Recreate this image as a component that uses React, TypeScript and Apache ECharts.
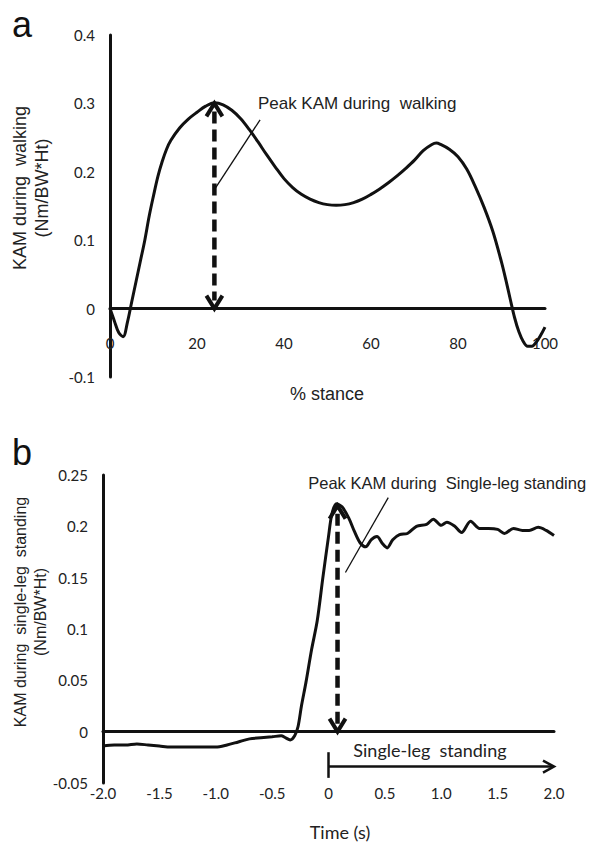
import React, { useEffect, useRef } from "react";
import * as echarts from "echarts";

// ---- Panel a: KAM during walking ----
const stancePct = [0, 1, 2, 3, 4, 5, 6, 7, 8, 9, 10, 11, 12, 13, 14, 16, 18, 20, 22, 24, 26, 28, 30, 32, 34, 36, 38, 40, 42, 44, 46, 48, 50, 52, 54, 56, 58, 60, 62, 64, 66, 68, 70, 72, 74, 75, 76, 78, 80, 82, 84, 86, 88, 90, 91, 92, 93, 94, 95, 96, 97, 98, 99, 100];
const walkingKAM = [0, -0.018, -0.035, -0.041, -0.02, 0.01, 0.04, 0.07, 0.1, 0.135, 0.165, 0.193, 0.215, 0.233, 0.246, 0.264, 0.277, 0.287, 0.296, 0.301, 0.298, 0.29, 0.278, 0.262, 0.244, 0.225, 0.207, 0.19, 0.177, 0.167, 0.16, 0.155, 0.152, 0.151, 0.152, 0.155, 0.16, 0.167, 0.175, 0.184, 0.194, 0.205, 0.217, 0.231, 0.24, 0.242, 0.24, 0.233, 0.222, 0.204, 0.178, 0.148, 0.113, 0.068, 0.042, 0.014, -0.013, -0.034, -0.048, -0.055, -0.055, -0.049, -0.039, -0.027];
const walkingXTicks = { min: 0, max: 100, interval: 20 };
const walkingYTicks = { min: -0.1, max: 0.4, interval: 0.1 };
const walkingPeak = [24, 0.3];
const walkingLeader = [[24, 0.174], [34.5, 0.276]];
const walkingNoteAt = [34, 0.3];

// ---- Panel b: KAM during single-leg standing ----
const timeSec = [-2.0, -1.9, -1.8, -1.7, -1.6, -1.5, -1.4, -1.3, -1.2, -1.1, -1.0, -0.9, -0.8, -0.7, -0.6, -0.5, -0.42, -0.38, -0.34, -0.3, -0.27, -0.24, -0.2, -0.15, -0.1, -0.05, 0, 0.03, 0.07, 0.12, 0.18, 0.23, 0.28, 0.33, 0.38, 0.43, 0.48, 0.52, 0.57, 0.63, 0.7, 0.78, 0.87, 0.93, 1.0, 1.05, 1.12, 1.18, 1.26, 1.34, 1.42, 1.5, 1.56, 1.64, 1.72, 1.78, 1.86, 1.93, 2.0];
const standingKAM = [-0.014, -0.013, -0.013, -0.012, -0.013, -0.014, -0.015, -0.015, -0.015, -0.015, -0.015, -0.013, -0.01, -0.007, -0.006, -0.005, -0.004, -0.006, -0.008, -0.004, 0.005, 0.025, 0.048, 0.08, 0.108, 0.15, 0.19, 0.212, 0.222, 0.219, 0.208, 0.195, 0.184, 0.18, 0.187, 0.19, 0.183, 0.179, 0.187, 0.192, 0.193, 0.2, 0.202, 0.207, 0.201, 0.204, 0.2, 0.194, 0.205, 0.198, 0.198, 0.197, 0.193, 0.198, 0.196, 0.196, 0.199, 0.196, 0.191];
const standingXTicks = { min: -2, max: 2, interval: 0.5 };
const standingYTicks = { min: -0.05, max: 0.25, interval: 0.05 };
const standingPeak = [0.08, 0.22];
const standingLeader = [[0.53, 0.228], [0.15, 0.155]];
const standingNoteAt = [-0.18, 0.242];
const phaseStart = 0;
const phaseEnd = 2.0;
const phaseY = -0.034;
const phaseTick = [-0.02, -0.045];
const phaseLabelAt = [0.9, -0.0175];

const INK = "#111";
const ARIAL = "Liberation Sans, Arial, sans-serif";
const CAL = "Lato, Carlito, sans-serif";

function chevron(tip: number[], dir: "up" | "down" | "right", w = 8, l = 13) {
  const [x, y] = tip;
  let pts: number[][];
  if (dir === "up") pts = [[x - w, y + l], [x, y], [x + w, y + l]];
  else if (dir === "down") pts = [[x - w, y - l], [x, y], [x + w, y - l]];
  else pts = [[x - l, y - w], [x, y], [x - l, y + w]];
  return { type: "polyline", shape: { points: pts }, style: { stroke: INK, lineWidth: 4, fill: "none" } };
}

export default function App() {
  const ref = useRef<HTMLDivElement>(null);
  useEffect(() => {
    if (!ref.current) return;
    const chart = echarts.init(ref.current, undefined, { renderer: "svg" });

    const axisLabelStyle = { color: "#222", fontFamily: CAL, fontSize: 15 };

    const option: any = {
      animation: false,
      backgroundColor: "#fff",
      grid: [
        { left: 110, top: 35, width: 435, height: 342 },
        { left: 103, top: 475, width: 451, height: 308 },
      ],
      xAxis: [
        {
          gridIndex: 0, type: "value", ...walkingXTicks,
          axisLine: { onZero: true, lineStyle: { color: INK, width: 3 } },
          axisTick: { show: false }, splitLine: { show: false },
          axisLabel: { ...axisLabelStyle, margin: -42 },
        },
        {
          gridIndex: 1, type: "value", ...standingXTicks,
          axisLine: { onZero: true, lineStyle: { color: INK, width: 3 } },
          axisTick: { show: false }, splitLine: { show: false },
          axisLabel: { ...axisLabelStyle, margin: 2, formatter: (v: number) => (v === 0 ? "0" : v.toFixed(1)) },
        },
      ],
      yAxis: [
        {
          gridIndex: 0, type: "value", ...walkingYTicks,
          axisLine: { show: true, onZero: false, lineStyle: { color: INK, width: 3 } },
          axisTick: { show: false }, splitLine: { show: false },
          axisLabel: { ...axisLabelStyle, margin: 15, formatter: (v: number) => (Math.abs(v) < 1e-9 ? "0" : v.toFixed(1)) },
        },
        {
          gridIndex: 1, type: "value", ...standingYTicks,
          axisLine: { show: true, onZero: false, lineStyle: { color: INK, width: 3 } },
          axisTick: { show: false }, splitLine: { show: false },
          axisLabel: { ...axisLabelStyle, margin: 15, formatter: (v: number) => (Math.abs(v) < 1e-9 ? "0" : String(+v.toFixed(2))) },
        },
      ],
      series: [
        {
          type: "line", xAxisIndex: 0, yAxisIndex: 0, smooth: 0.35, symbol: "none",
          lineStyle: { color: INK, width: 3 },
          data: stancePct.map((x, i) => [x, walkingKAM[i]]),
        },
        {
          type: "line", xAxisIndex: 1, yAxisIndex: 1, smooth: 0.3, symbol: "none",
          lineStyle: { color: INK, width: 3 },
          data: timeSec.map((x, i) => [x, standingKAM[i]]),
        },
        {
          type: "custom", xAxisIndex: 0, yAxisIndex: 0, silent: true, clip: false,
          data: [[0, 0]],
          renderItem: (_p: any, api: any) => {
            const top = api.coord(walkingPeak);
            const bot = api.coord([walkingPeak[0], 0]);
            const l0 = api.coord(walkingLeader[0]);
            const l1 = api.coord(walkingLeader[1]);
            const t = api.coord(walkingNoteAt);
            return {
              type: "group",
              children: [
                { type: "line", shape: { x1: top[0], y1: top[1] + 8, x2: bot[0], y2: bot[1] - 8 }, style: { stroke: INK, lineWidth: 4.5, lineDash: [12, 6] } },
                chevron(top, "up"),
                chevron(bot, "down"),
                { type: "line", shape: { x1: l0[0], y1: l0[1], x2: l1[0], y2: l1[1] }, style: { stroke: INK, lineWidth: 1.3 } },
                { type: "text", x: t[0], y: t[1], style: { text: "Peak KAM during  walking", fill: "#222", font: `17px ${ARIAL}`, align: "left", verticalAlign: "middle" } },
              ],
            };
          },
        },
        {
          type: "custom", xAxisIndex: 1, yAxisIndex: 1, silent: true, clip: false,
          data: [[0, 0]],
          renderItem: (_p: any, api: any) => {
            const top = api.coord(standingPeak);
            const bot = api.coord([standingPeak[0], 0]);
            const l0 = api.coord(standingLeader[0]);
            const l1 = api.coord(standingLeader[1]);
            const t = api.coord(standingNoteAt);
            const ps = api.coord([phaseStart, phaseY]);
            const pe = api.coord([phaseEnd, phaseY]);
            const tk0 = api.coord([phaseStart, phaseTick[0]]);
            const tk1 = api.coord([phaseStart, phaseTick[1]]);
            const pl = api.coord(phaseLabelAt);
            return {
              type: "group",
              children: [
                { type: "line", shape: { x1: top[0], y1: top[1] + 8, x2: bot[0], y2: bot[1] - 8 }, style: { stroke: INK, lineWidth: 4.5, lineDash: [12, 6] } },
                chevron(top, "up"),
                chevron(bot, "down"),
                { type: "line", shape: { x1: l0[0], y1: l0[1], x2: l1[0], y2: l1[1] }, style: { stroke: INK, lineWidth: 1.3 } },
                { type: "text", x: t[0], y: t[1], style: { text: "Peak KAM during  Single-leg standing", fill: "#222", font: `16.5px ${ARIAL}`, align: "left", verticalAlign: "middle" } },
                { type: "line", shape: { x1: ps[0], y1: ps[1], x2: pe[0], y2: pe[1] }, style: { stroke: INK, lineWidth: 2.5 } },
                { type: "line", shape: { x1: tk0[0], y1: tk0[1], x2: tk1[0], y2: tk1[1] }, style: { stroke: INK, lineWidth: 2.5 } },
                { ...chevron(pe, "right", 6, 11), style: { stroke: INK, lineWidth: 2.5, fill: "none" } },
                { type: "text", x: pl[0], y: pl[1], style: { text: "Single-leg  standing", fill: "#222", font: `18px ${CAL}`, align: "center", verticalAlign: "middle" } },
              ],
            };
          },
        },
      ],
      graphic: [
        { type: "text", x: 22, y: 24, style: { text: "a", fill: "#111", font: `36px ${ARIAL}`, align: "center", verticalAlign: "middle" } },
        { type: "text", x: 22, y: 452, style: { text: "b", fill: "#111", font: `36px ${ARIAL}`, align: "center", verticalAlign: "middle" } },
        {
          type: "text", x: 31, y: 188, rotation: Math.PI / 2,
          style: { text: "KAM during  walking\n(Nm/BW*Ht)", fill: "#222", font: `18px ${ARIAL}`, lineHeight: 22, align: "center", verticalAlign: "middle" },
        },
        {
          type: "text", x: 30, y: 612, rotation: Math.PI / 2,
          style: { text: "KAM during  single-leg  standing\n(Nm/BW*Ht)", fill: "#222", font: `16px ${ARIAL}`, lineHeight: 20, align: "center", verticalAlign: "middle" },
        },
        { type: "text", x: 327, y: 394, style: { text: "% stance", fill: "#222", font: `18px ${ARIAL}`, align: "center", verticalAlign: "middle" } },
        { type: "text", x: 340, y: 832, style: { text: "Time (s)", fill: "#222", font: `18px ${CAL}`, align: "center", verticalAlign: "middle" } },
      ],
    };
    chart.setOption(option);
    return () => chart.dispose();
  }, []);
  return <div ref={ref} style={{ position: "fixed", left: 0, top: 0, width: 589, height: 843, background: "#fff" }} />;
}
